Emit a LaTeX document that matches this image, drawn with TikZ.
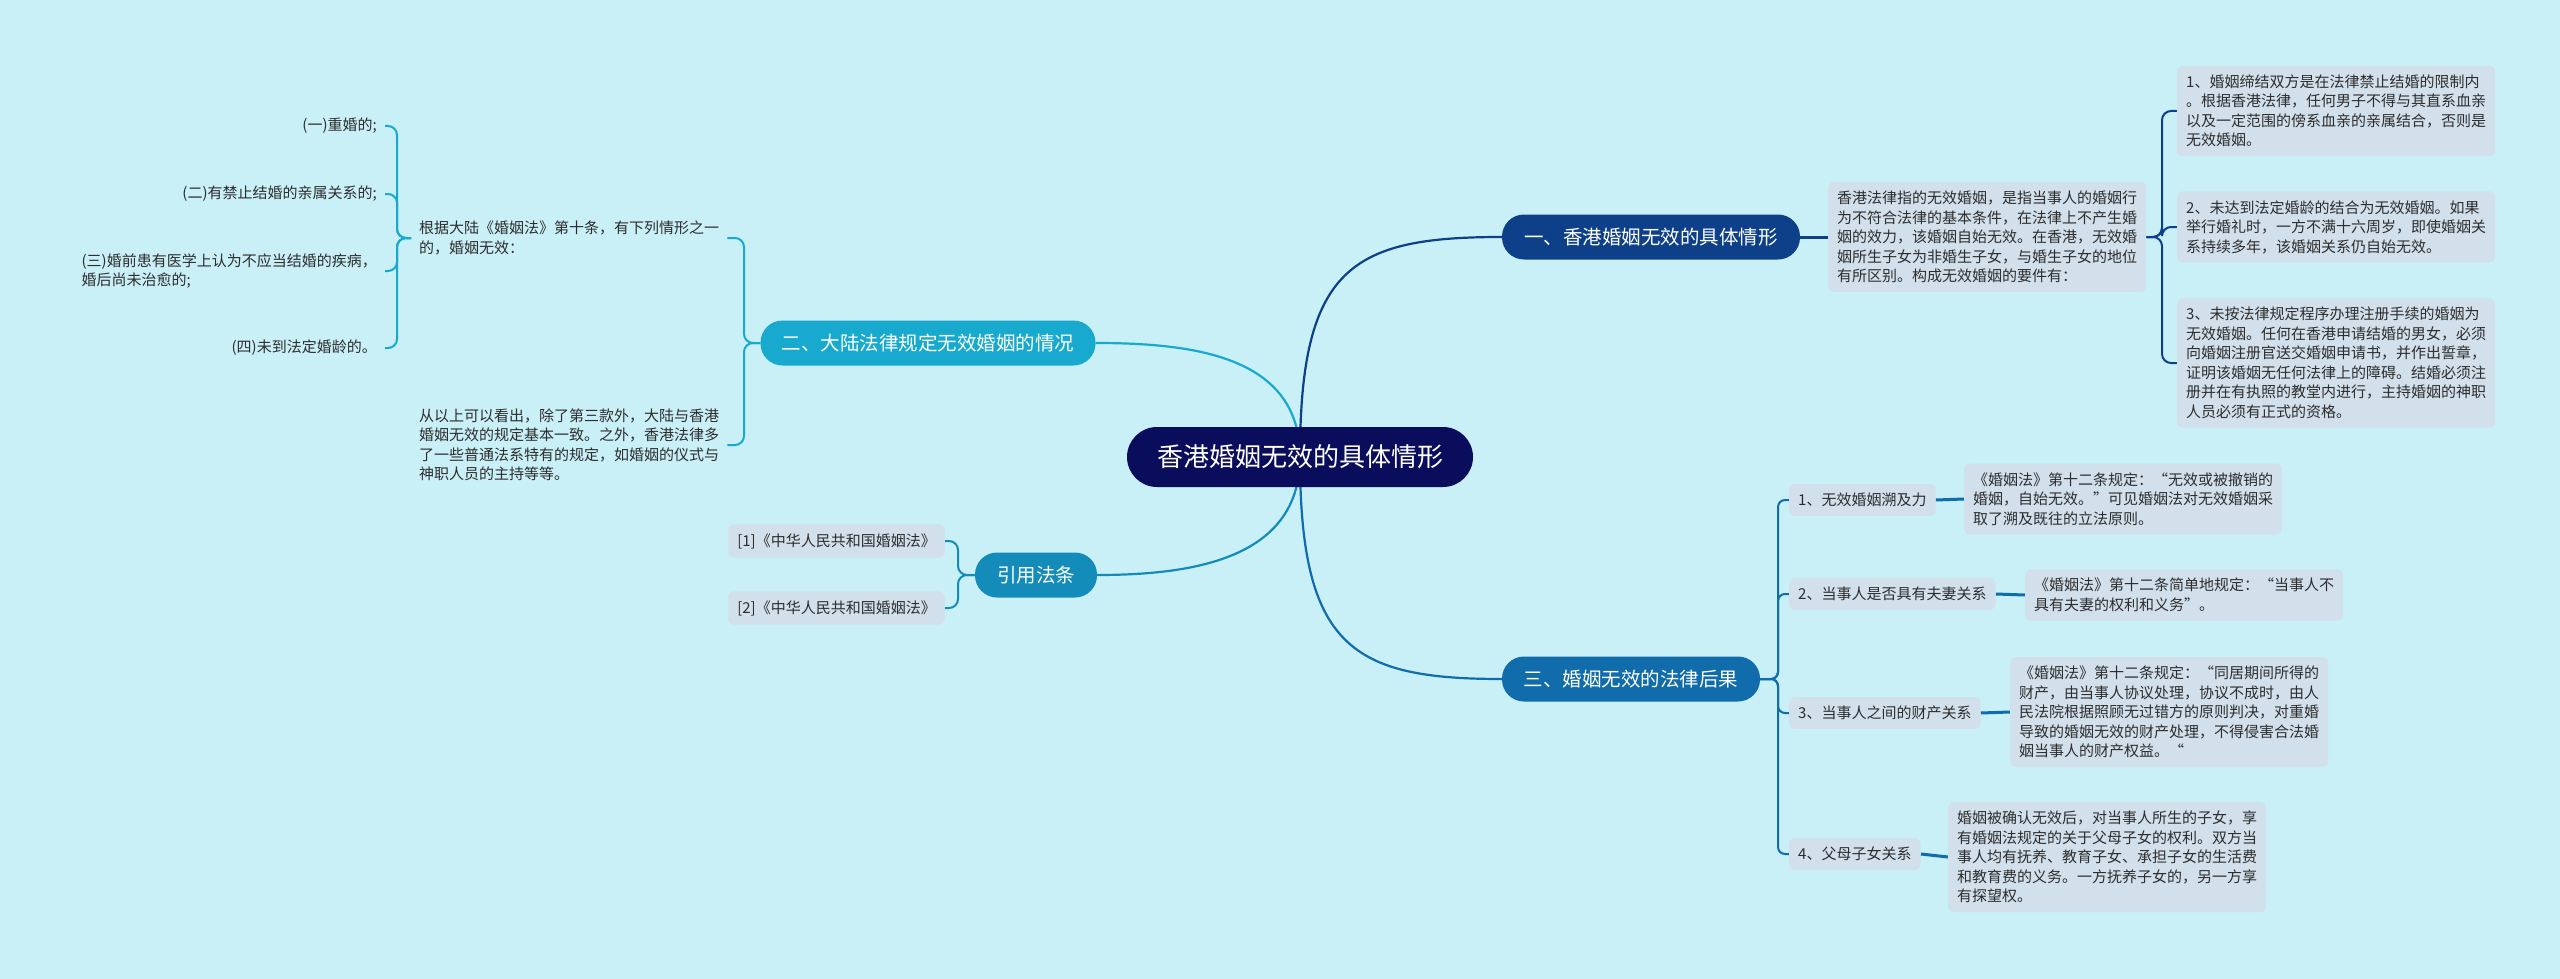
\documentclass[tikz,border=0pt]{standalone}
\usepackage{fontspec}
\setmainfont{Noto Sans CJK SC}
\usetikzlibrary{positioning,calc}
\definecolor{bgcyan}{RGB}{201,239,247}
\definecolor{rootnavy}{RGB}{10,12,92}
\definecolor{onenavy}{RGB}{14,64,138}
\definecolor{twocyan}{RGB}{24,170,206}
\definecolor{citeteal}{RGB}{20,140,186}
\definecolor{threeblue}{RGB}{16,108,170}
\definecolor{leafgrey}{RGB}{210,224,236}
\definecolor{inkgrey}{RGB}{45,45,45}
\pgfdeclarelayer{bg}
\pgfsetlayers{bg,main}
\tikzset{
  root/.style={fill=rootnavy, text=white, rounded corners=30pt,
    minimum width=346pt, minimum height=60pt, font=\fontsize{26}{30}\selectfont},
  topic/.style={fill=#1, text=white, rounded corners=22pt,
    minimum height=45pt, font=\fontsize{19.5}{24}\selectfont},
  leaf/.style={fill=leafgrey, text=inkgrey, rounded corners=6pt, inner sep=9pt,
    align=left, font=\fontsize{15}{19.5}\selectfont},
  bare/.style={text=inkgrey, inner sep=8pt, align=left, font=\fontsize{15}{19.5}\selectfont},
  link/.style={line width=2pt, rounded corners=9pt},
  stub/.style={line width=3pt},
}

\begin{document}
\begin{tikzpicture}[x=1pt,y=-1pt]

\begin{pgfonlayer}{bg}
\fill[bgcyan] (0,0) rectangle (2560,979);
\end{pgfonlayer}
\useasboundingbox (0,0) rectangle (2560,979);

% main topics
\node[root] (root) at (1300,457) {香港婚姻无效的具体情形};
\node[topic=onenavy, minimum width=298pt] (t1) at (1651,237) {一、香港婚姻无效的具体情形};
\node[topic=twocyan, minimum width=335pt] (t2) at (928,343) {二、大陆法律规定无效婚姻的情况};
\node[topic=citeteal, minimum width=122pt] (t4) at (1036,575) {引用法条};
\node[topic=threeblue, minimum width=258pt] (t3) at (1631,679) {三、婚姻无效的法律后果};

% branch one
\node[leaf, anchor=west] (d1) at (1828,237) {香港法律指的无效婚姻，是指当事人的婚姻行\\为不符合法律的基本条件，在法律上不产生婚\\姻的效力，该婚姻自始无效。在香港，无效婚\\姻所生子女为非婚生子女，与婚生子女的地位\\有所区别。构成无效婚姻的要件有：};
\node[leaf, anchor=west] (d1a) at (2177,111) {1、婚姻缔结双方是在法律禁止结婚的限制内\\。根据香港法律，任何男子不得与其直系血亲\\以及一定范围的傍系血亲的亲属结合，否则是\\无效婚姻。};
\node[leaf, anchor=west] (d1b) at (2177,227) {2、未达到法定婚龄的结合为无效婚姻。如果\\举行婚礼时，一方不满十六周岁，即使婚姻关\\系持续多年，该婚姻关系仍自始无效。};
\node[leaf, anchor=west] (d1c) at (2177,363) {3、未按法律规定程序办理注册手续的婚姻为\\无效婚姻。任何在香港申请结婚的男女，必须\\向婚姻注册官送交婚姻申请书，并作出誓章，\\证明该婚姻无任何法律上的障碍。结婚必须注\\册并在有执照的教堂内进行，主持婚姻的神职\\人员必须有正式的资格。};

% branch two
\node[bare, anchor=west] (gen) at (411,238) {根据大陆《婚姻法》第十条，有下列情形之一\\的，婚姻无效：};
\node[bare, anchor=west] (sum) at (411,445) {从以上可以看出，除了第三款外，大陆与香港\\婚姻无效的规定基本一致。之外，香港法律多\\了一些普通法系特有的规定，如婚姻的仪式与\\神职人员的主持等等。};
\node[bare, anchor=east] (g1) at (385,126) {(一)重婚的;};
\node[bare, anchor=east] (g2) at (385,194) {(二)有禁止结婚的亲属关系的;};
\node[bare, anchor=east] (g3) at (385,271) {(三)婚前患有医学上认为不应当结婚的疾病，\\婚后尚未治愈的;};
\node[bare, anchor=east] (g4) at (385,348) {(四)未到法定婚龄的。};

% citations
\node[leaf, anchor=east] (c1) at (945,541) {[1]《中华人民共和国婚姻法》};
\node[leaf, anchor=east] (c2) at (945,608) {[2]《中华人民共和国婚姻法》};

% branch three
\node[leaf, anchor=west] (s1) at (1789,500) {1、无效婚姻溯及力};
\node[leaf, anchor=west] (s2) at (1789,594) {2、当事人是否具有夫妻关系};
\node[leaf, anchor=west] (s3) at (1789,713) {3、当事人之间的财产关系};
\node[leaf, anchor=west] (s4) at (1789,854) {4、父母子女关系};
\node[leaf, anchor=west] (s1d) at (1964,499) {《婚姻法》第十二条规定：“无效或被撤销的\\婚姻，自始无效。”可见婚姻法对无效婚姻采\\取了溯及既往的立法原则。};
\node[leaf, anchor=west] (s2d) at (2025,595) {《婚姻法》第十二条简单地规定：“当事人不\\具有夫妻的权利和义务”。};
\node[leaf, anchor=west] (s3d) at (2010,712) {《婚姻法》第十二条规定：“同居期间所得的\\财产，由当事人协议处理，协议不成时，由人\\民法院根据照顾无过错方的原则判决，对重婚\\导致的婚姻无效的财产处理，不得侵害合法婚\\姻当事人的财产权益。“};
\node[leaf, anchor=west] (s4d) at (1948,857) {婚姻被确认无效后，对当事人所生的子女，享\\有婚姻法规定的关于父母子女的权利。双方当\\事人均有抚养、教育子女、承担子女的生活费\\和教育费的义务。一方抚养子女的，另一方享\\有探望权。};

\begin{pgfonlayer}{bg}
% root to topics
\draw[line width=2.2pt, onenavy] (root.center) .. controls +(0,-190) and +(-150,0) .. (t1.west);
\draw[line width=2.2pt, twocyan] (root.center) .. controls +(0,-100) and +(100,0) .. (t2.east);
\draw[line width=2.2pt, citeteal] (root.center) .. controls +(0,100) and +(100,0) .. (t4.east);
\draw[line width=2.2pt, threeblue] (root.center) .. controls +(0,190) and +(-150,0) .. (t3.west);

% branch one
\draw[stub, onenavy] (t1.east) -- (d1.west);
\coordinate (j1) at (2162,237);
\draw[link, onenavy] (d1.east) -- (j1) |- (d1a.west);
\draw[link, onenavy] (d1.east) -- (j1) |- (d1b.west);
\draw[link, onenavy] (d1.east) -- (j1) |- (d1c.west);

% branch two
\coordinate (j2) at (744,343);
\draw[link, twocyan] (t2.west) -- (j2) |- (gen.east);
\draw[link, twocyan] (t2.west) -- (j2) |- (sum.east);
\coordinate (j3) at (397,238);
\foreach \g in {g1,g2,g3,g4}
  \draw[link, twocyan] (gen.west) -- (j3) |- (\g.east);

% citations
\coordinate (j4) at (958,575);
\draw[link, citeteal] (t4.west) -- (j4) |- (c1.east);
\draw[link, citeteal] (t4.west) -- (j4) |- (c2.east);

% branch three
\coordinate (j5) at (1778,679);
\foreach \s in {s1,s2,s3,s4}
  \draw[link, threeblue, rounded corners=7pt] (t3.east) -- (j5) |- (\s.west);
\draw[stub, threeblue] (s1.east) -- (s1d.west);
\draw[stub, threeblue] (s2.east) -- (s2d.west);
\draw[stub, threeblue] (s3.east) -- (s3d.west);
\draw[stub, threeblue] (s4.east) -- (s4d.west);
\end{pgfonlayer}

\end{tikzpicture}
\end{document}
